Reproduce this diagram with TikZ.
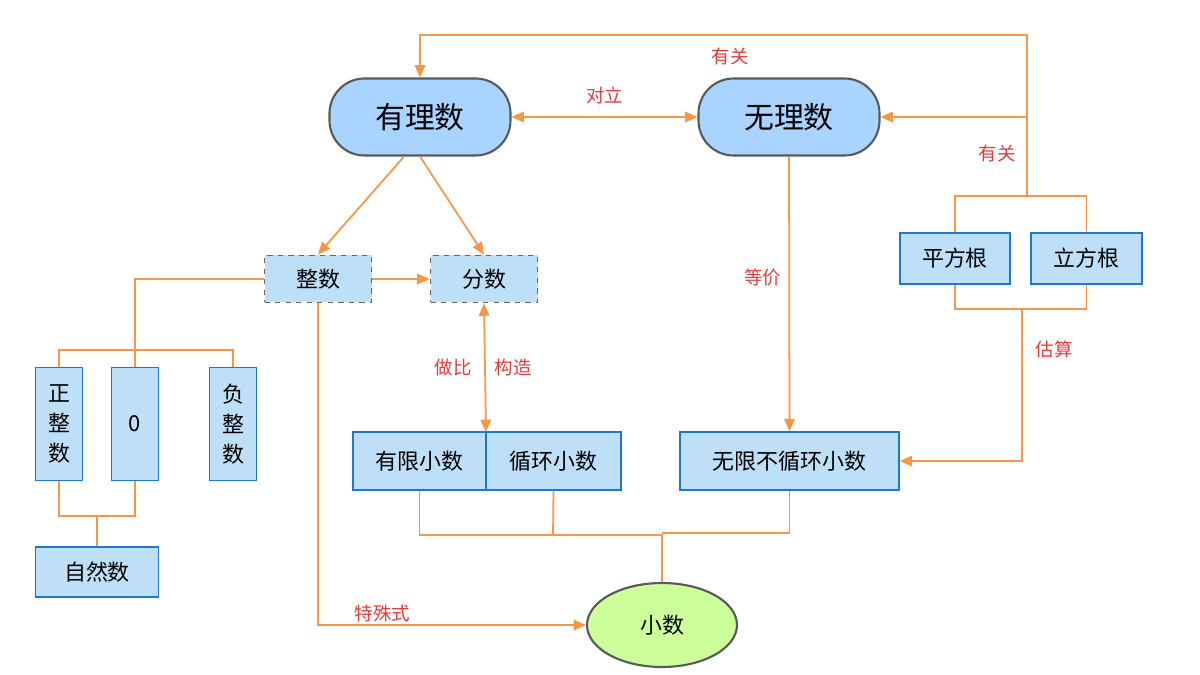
\documentclass[tikz,border=0pt]{standalone}
\usepackage{fontspec}
\setmainfont{Noto Sans CJK SC}
\usetikzlibrary{shapes.geometric,arrows.meta}
\definecolor{org}{HTML}{F79646}
\definecolor{lab}{HTML}{E03C3C}
\definecolor{bfill}{HTML}{BDDFF7}
\definecolor{bline}{HTML}{1E78D2}
\definecolor{rfill}{HTML}{A8D4FF}
\definecolor{gfill}{HTML}{CCFF99}
\begin{document}
\begin{tikzpicture}[x=0.02cm,y=-0.02cm,
 big/.style={draw=black!65,line width=1.2pt,fill=rfill,rounded corners=0.7cm,minimum width=181*0.02cm,minimum height=77*0.02cm,font=\fontsize{17}{20}\selectfont,inner sep=0pt},
 dsh/.style={draw=black!60,dashed,line width=1.1pt,fill=bfill,minimum width=107*0.02cm,minimum height=47*0.02cm,font=\fontsize{12.5}{15}\selectfont,inner sep=0pt},
 box/.style={draw=bline,line width=0.9pt,fill=bfill,font=\fontsize{12.5}{15}\selectfont,inner sep=0pt},
 vbox/.style={box,minimum width=47*0.02cm,minimum height=113*0.02cm,align=center,font=\fontsize{12.5}{17}\selectfont},
 ln/.style={draw=org,line width=1pt},
 ar/.style={ln,-{Triangle[length=7pt,width=6pt]}},
 lb/.style={text=lab,font=\fontsize{10.5}{12}\selectfont,inner sep=1pt}]
\useasboundingbox (0,0) rectangle (1200,675);
\node[big] (q) at (420,117) {有理数};
\node[big] (ir) at (789,117) {无理数};
\node[dsh] (z) at (318,279) {整数};
\node[dsh] (f) at (484,279) {分数};
\node[vbox] (pz) at (59,424) {正\\整\\数};
\node[vbox] (zero) at (135,424) {0};
\node[vbox] (nz) at (233,424) {负\\整\\数};
\node[box,minimum width=123*0.02cm,minimum height=50*0.02cm] (nat) at (97,572) {自然数};
\node[box,minimum width=133*0.02cm,minimum height=58*0.02cm] (fin) at (419.5,461) {有限小数};
\node[box,minimum width=135*0.02cm,minimum height=58*0.02cm] (rep) at (553.5,461) {循环小数};
\node[box,minimum width=219*0.02cm,minimum height=58*0.02cm] (inf) at (789.5,461) {无限不循环小数};
\node[box,minimum width=110*0.02cm,minimum height=51*0.02cm] (sq) at (955,258.5) {平方根};
\node[box,minimum width=111*0.02cm,minimum height=51*0.02cm] (cu) at (1086.5,258.5) {立方根};
\node[ellipse,draw=black!65,line width=1.2pt,fill=gfill,minimum width=150*0.02cm,minimum height=84*0.02cm,font=\fontsize{12.5}{15}\selectfont] (dec) at (662,625) {小数};
\coordinate (top) at (1027,35);
\coordinate (j1) at (1027,196);
\coordinate (j2) at (1022,309);
\coordinate (jb) at (662,535);
% connectors
\draw[ar,{Triangle[length=7pt,width=6pt]}-{Triangle[length=7pt,width=6pt]}] (q) -- (ir) node[lb,midway,above=6pt] {对立};
\draw[ar] (q.south) ++(-16,0) -- (z.north);
\draw[ar] (q.south) -- (f.north);
\draw[ar] (z) -- (f);
\draw[ln] (z.west) -| (135,350);
\draw[ln] (pz.north) |- (135,350) -| (nz.north);
\draw[ln] (135,350) -- (zero.north);
\draw[ln] (pz.south) |- (135,516) -- (zero.south);
\draw[ln] (97,516) -- (nat.north);
\draw[ar,{Triangle[length=7pt,width=6pt]}-{Triangle[length=7pt,width=6pt]}] (f.south) -- (486,432);
\node[lb] at (453,367) {做比};
\node[lb] at (513,367) {构造};
\draw[ar] (z.south) |- (dec.west) node[lb,pos=0.62,above] {特殊式};
\draw[ar] (ir.south) -- (inf.north) node[lb,pos=0.44,left=3pt] {等价};
\draw[ln] (fin.south) |- (jb) -- (dec.north);
\draw[ln] (rep.south) -- (553,535);
\draw[ln] (inf.south) |- (662,533);
\draw[ln] (sq.north) |- (j1) -| (cu.north);
\draw[ar] (j1) -- (top) -| (q.north);
\node[lb] at (730,56) {有关};
\draw[ar] (1027,117) -- (ir.east);
\node[lb] at (997,153) {有关};
\draw[ln] (sq.south) |- (j2) -| (cu.south);
\draw[ar] (j2) |- (inf.east);
\node[lb] at (1054,349) {估算};
\end{tikzpicture}
\end{document}
